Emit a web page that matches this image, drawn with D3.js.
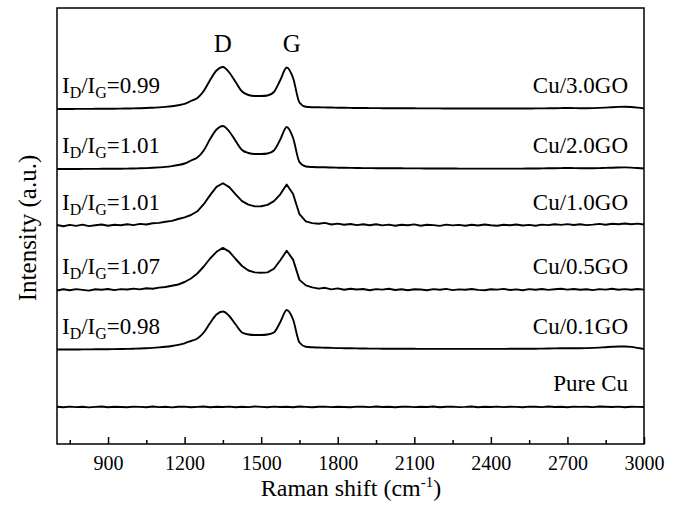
<!DOCTYPE html>
<html>
<head>
<meta charset="utf-8">
<script src="https://cdn.jsdelivr.net/npm/d3@7"></script>
<style>
  body { margin: 0; background: #fff; }
  text { font-family: "Liberation Serif", "Times New Roman", serif; fill: #000; }
</style>
</head>
<body>
<svg width="681" height="511"></svg>
<script>
// raman shift sampling (cm-1)
const shift = [700,725,750,775,800,825,850,875,900,925,950,975,1000,1025,1050,1075,1100,
  1125,1150,1175,1200,1225,1250,1275,1300,1325,1350,1375,1400,1425,1450,1475,1500,
  1525,1550,1575,1600,1625,1650,1675,1700,1725,1750,1775,1800,1825,1850,1875,1900,
  1925,1950,1975,2000,2025,2050,2075,2100,2125,2150,2175,2200,2225,2250,2275,2300,
  2325,2350,2375,2400,2425,2450,2475,2500,2525,2550,2575,2600,2625,2650,2675,2700,
  2725,2750,2775,2800,2825,2850,2875,2900,2925,2950,2975,3000];

// intenziteti (a.u.), relativno na baznu liniju svakog uzorka
const cu30 = [0,0,0,0.1,0.1,0.1,0.2,0.2,0.3,
  0.3,0.4,0.5,0.6,0.8,1.0,1.3,1.6,
  2.1,2.8,3.8,5.2,8,11,18,29,
  38.5,42,36.5,27,17.5,14,13,13,
  13.5,17,29,41.5,31,6.5,2.2,1.8,
  1.7,1.6,1.5,1.3,1.2,1.1,1,1,
  0.9,0.9,0.8,0.8,0.8,0.7,0.7,0.7,
  0.6,0.6,0.6,0.6,0.5,0.5,0.5,0.5,
  0.5,0.5,0.5,0.5,0.5,0.5,0.5,0.5,
  0.5,0.5,0.6,0.6,0.7,0.8,0.9,1.0,
  0.9,0.8,0.8,0.9,1.1,1.4,1.8,2.1,
  2.2,2.0,1.4,0.6];

const cu20 = [0,0,0,0,0.1,0.1,0.1,0.2,0.2,
  0.3,0.3,0.4,0.5,0.7,0.9,1.2,1.6,
  2.1,2.9,4,5.5,8.5,11.5,18.5,30,
  39.5,43,37.5,28,19,16,15,15,
  15.5,18.5,29.5,42,31,7,2.5,2,
  1.8,1.7,1.5,1.3,1.2,1.1,1,0.9,
  0.9,0.8,0.8,0.7,0.7,0.7,0.6,0.6,
  0.6,0.5,0.5,0.5,0.5,0.5,0.4,0.4,
  0.4,0.4,0.4,0.4,0.4,0.4,0.4,0.4,
  0.4,0.5,0.5,0.6,0.7,0.8,0.9,1.0,
  0.9,0.8,0.8,0.8,0.9,1.1,1.3,1.5,
  1.6,1.4,1.0,0.5];

const cu10 = [0.5,-0.8,0.6,-0.4,0.9,-0.6,0.3,1.0,-0.2,
  0.8,0.2,1.3,0.4,1.6,1.0,2.2,2.6,
  3.8,4.6,6.5,8.2,10.5,14.2,21.3,30.4,
  38.6,42.3,38.4,31.2,24.4,20.8,19.1,19.3,
  20.6,24.4,31.2,41.0,31.5,11.3,4.2,2.4,
  1.8,2.6,1.0,1.9,0.7,1.5,0.4,1.2,
  0.3,1.3,0.1,0.9,-0.3,0.8,0.2,1.1,
  -0.2,0.7,0.4,-0.4,0.9,0.1,0.6,-0.3,
  0.8,0.0,1.0,0.2,-0.3,0.7,0.3,1.0,
  0.0,0.6,-0.2,0.9,0.4,1.2,0.6,1.4,
  0.5,1.3,0.4,0.9,1.6,0.8,1.7,1.2,
  2.0,1.3,1.9,1.0];

const cu05 = [-0.5,0.8,-0.3,0.9,0.1,-0.6,0.7,0.2,1.0,
  -0.1,0.9,0.5,1.4,0.6,1.7,1.2,2.4,
  3.0,4.2,5.5,8.0,11.5,16.5,23.5,31.5,
  38.2,42.1,38.4,31.0,24.0,19.5,17.6,17.2,
  17.6,21.3,29.8,39.2,30.4,10.1,4.6,2.6,
  1.4,2.2,0.6,1.6,0.3,1.3,0.5,1.0,
  -0.2,0.9,0.4,1.2,0.0,0.8,-0.3,0.7,
  0.5,-0.2,0.9,0.3,1.1,-0.1,0.6,0.2,
  1.0,0.1,-0.3,0.8,0.4,1.1,0.0,0.6,
  -0.2,0.9,0.3,1.0,0.1,0.7,1.3,0.4,
  1.0,0.2,0.8,-0.1,0.9,0.4,1.2,0.3,
  0.9,0.2,1.0,0.4];

const cu01 = [0,0,0,0,0.1,0.1,0.2,0.2,0.3,
  0.4,0.5,0.6,0.8,1.0,1.3,1.6,2.1,
  2.7,3.5,4.6,6.2,8.5,11,17,26.5,
  35,38,33.5,25,17,15,14.5,14.5,
  15,17,27.5,39.5,30,7,2.8,2.2,
  2.0,1.8,1.6,1.4,1.3,1.2,1.1,1.0,
  0.9,0.9,0.8,0.8,0.8,0.7,0.7,0.7,
  0.6,0.6,0.6,0.6,0.6,0.6,0.6,0.6,
  0.6,0.6,0.6,0.6,0.6,0.6,0.7,0.7,
  0.7,0.8,0.8,0.9,1.0,1.1,1.2,1.3,
  1.3,1.3,1.4,1.6,1.9,2.3,2.7,3.0,
  3.0,2.6,1.6,0.5];

const pureCu = [0.2,-0.3,0.4,-0.1,0.3,-0.4,0.1,0.5,-0.2,0.3,
  0.0,-0.3,0.4,0.1,-0.2,0.5,-0.1,0.3,-0.4,0.2,
  0.4,-0.2,0.1,0.5,-0.3,0.2,0.0,0.4,-0.2,0.3,
  -0.1,0.5,0.1,-0.3,0.4,0.0,0.3,-0.2,0.5,0.1,
  -0.3,0.2,0.4,-0.1,0.3,0.0,-0.3,0.4,0.2,-0.1,
  0.5,0.0,0.3,-0.2,0.2,0.4,-0.1,0.3,0.0,0.5,
  -0.2,0.2,0.4,-0.1,0.1,0.5,-0.2,0.3,0.0,0.4,
  -0.1,0.3,0.1,-0.3,0.4,0.2,-0.1,0.5,0.0,0.3,
  -0.2,0.4,0.1,0.3,-0.1,0.5,0.2,0.0,0.4,-0.2,
  0.3,0.1,0.0];

const sampleNames = ["Cu/3.0GO", "Cu/2.0GO", "Cu/1.0GO", "Cu/0.5GO", "Cu/0.1GO", "Pure Cu"];
const ratios = ["0.99", "1.01", "1.01", "1.07", "0.98", null];
const offsets = [335, 275, 218.5, 154, 94.5, 37];   // pomeraj (a.u.) za slaganje spektara
const noisy = [false, false, true, true, false, true];
const allValues = [cu30, cu20, cu10, cu05, cu01, pureCu];

const majorTicks = [900, 1200, 1500, 1800, 2100, 2400, 2700, 3000];
const minorTicks = [750, 1050, 1350, 1650, 1950, 2250, 2550, 2850];
const bands = [{name: "D", pos: 1350}, {name: "G", pos: 1620}];

const svg = d3.select("svg");
const mLeft = 57, mRight = 644, mTop = 8, mBottom = 444;

const x = d3.scaleLinear().domain([700, 3000]).range([mLeft, mRight]);
const y = d3.scaleLinear().domain([0, 436]).range([mBottom, mTop]);

//okvir grafika
svg.append("rect")
  .attr("x", mLeft).attr("y", mTop)
  .attr("width", mRight - mLeft).attr("height", mBottom - mTop)
  .attr("fill", "none").attr("stroke", "#000").attr("stroke-width", 1.5);

//x-osa, glavni podeoci
const gx = svg.append("g")
  .attr("transform", "translate(0," + mBottom + ")")
  .call(d3.axisBottom(x).tickValues(majorTicks).tickSizeInner(-7).tickSizeOuter(0).tickPadding(12).tickFormat(d3.format("d")));
gx.select(".domain").remove();
gx.selectAll(".tick line").attr("stroke-width", 1.5);
gx.selectAll(".tick text")
  .attr("font-family", "Liberation Serif")
  .style("font-family", "'Liberation Serif', serif")
  .style("font-size", "20px");

//sporedni podeoci
const gm = svg.append("g")
  .attr("transform", "translate(0," + mBottom + ")")
  .call(d3.axisBottom(x).tickValues(minorTicks).tickSizeInner(-4).tickSizeOuter(0).tickFormat(""));
gm.select(".domain").remove();
gm.selectAll(".tick line").attr("stroke-width", 1.5);

//spektri
const smoothLine = d3.line()
  .x((d, i) => x(shift[i]))
  .y(d => y(d.base + d.v))
  .curve(d3.curveMonotoneX);
const noisyLine = d3.line()
  .x((d, i) => x(shift[i]))
  .y(d => y(d.base + d.v))
  .curve(d3.curveLinear);

allValues.forEach(function (vals, k) {
  const pts = vals.map(v => ({v: v, base: offsets[k]}));
  svg.append("path")
    .datum(pts)
    .attr("d", noisy[k] ? noisyLine : smoothLine)
    .attr("fill", "none")
    .attr("stroke", "#000")
    .attr("stroke-width", noisy[k] ? 1.9 : 1.9)
    .attr("stroke-linejoin", "round");
});

//nazivi uzoraka desno
svg.append("g").selectAll("text")
  .data(sampleNames)
  .enter()
  .append("text")
  .attr("x", 628)
  .attr("y", (d, i) => y(offsets[i]) - 16)
  .attr("text-anchor", "end")
  .style("font-size", "23px")
  .text(d => d);

//odnos ID/IG levo
ratios.forEach(function (r, i) {
  if (r === null) return;
  const t = svg.append("text")
    .attr("x", 62)
    .attr("y", y(offsets[i]) - 16)
    .style("font-size", "23px");
  t.append("tspan").text("I");
  t.append("tspan").attr("dy", 5).style("font-size", "16px").text("D");
  t.append("tspan").attr("dy", -5).text("/I");
  t.append("tspan").attr("dy", 5).style("font-size", "16px").text("G");
  t.append("tspan").attr("dy", -5).text("=" + r);
});

//oznake D i G traka
svg.append("g").selectAll("text")
  .data(bands)
  .enter()
  .append("text")
  .attr("x", d => x(d.pos))
  .attr("y", 52)
  .attr("text-anchor", "middle")
  .style("font-size", "25px")
  .text(d => d.name);

//naslov x-ose
const xt = svg.append("text")
  .attr("x", 351)
  .attr("y", 496)
  .attr("text-anchor", "middle")
  .style("font-size", "24px");
xt.append("tspan").text("Raman shift (cm");
xt.append("tspan").attr("dy", -9).style("font-size", "15px").text("-1");
xt.append("tspan").attr("dy", 9).text(")");

//naslov y-ose
svg.append("text")
  .attr("transform", "translate(36,228)rotate(-90)")
  .attr("text-anchor", "middle")
  .style("font-size", "25px")
  .text("Intensity (a.u.)");
</script>
</body>
</html>
